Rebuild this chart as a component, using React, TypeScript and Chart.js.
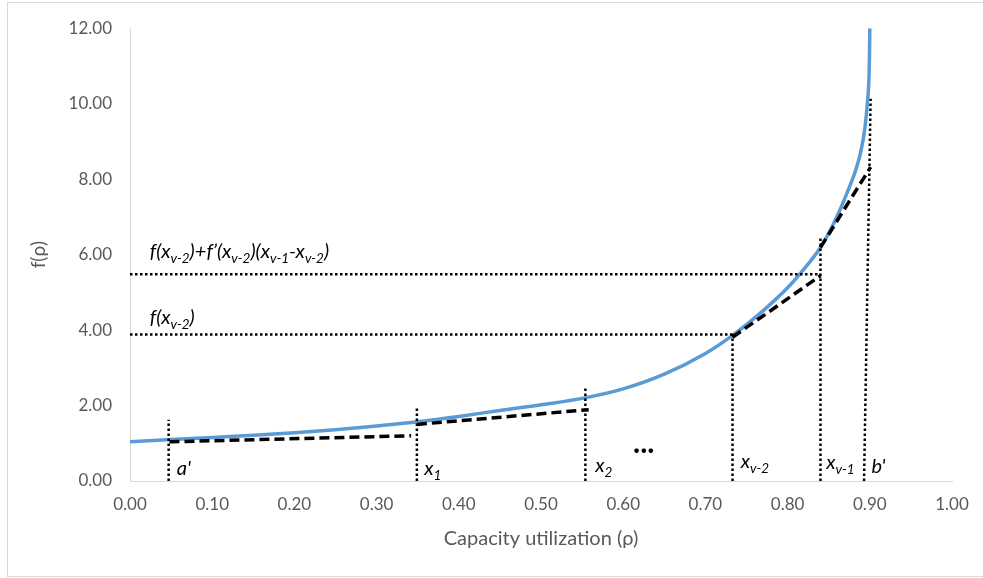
import React, { useEffect, useRef } from "react";
import { Chart, registerables } from "chart.js";

Chart.register(...registerables);

// Blue curve f(rho)
const curveRho = [0, 0.05, 0.10, 0.15, 0.20, 0.25, 0.30, 0.35, 0.40, 0.45, 0.50, 0.555, 0.60, 0.65, 0.70, 0.733, 0.77, 0.80, 0.815, 0.84, 0.855, 0.865, 0.875, 0.883, 0.889, 0.894, 0.897, 0.899, 0.8997, 0.900];
const curveF = [1.04, 1.10, 1.15, 1.21, 1.28, 1.36, 1.46, 1.57, 1.71, 1.87, 2.02, 2.21, 2.44, 2.83, 3.38, 3.86, 4.51, 5.12, 5.49, 6.19, 6.78, 7.25, 7.78, 8.25, 8.72, 9.35, 10.00, 10.70, 11.40, 12.00];

// Dashed linear approximation segments: [rho0, f0, rho1, f1]
const tangentSegments = [
  [0.048, 1.04, 0.342, 1.20],
  [0.349, 1.50, 0.558, 1.89],
  [0.733, 3.81, 0.840, 5.44],
  [0.840, 6.19, 0.901, 8.32],
];

// Dotted guide lines: [rho0, f0, rho1, f1]
const guideLines = [
  [0.047, 0, 0.047, 1.62],
  [0.349, 0, 0.349, 1.96],
  [0.554, 0, 0.554, 2.51],
  [0.733, 0, 0.733, 3.90],
  [0.840, 0, 0.840, 6.47],
  [0.893, 0, 0.901, 10.13],
  [0.000, 3.88, 0.733, 3.88],
  [0.000, 5.48, 0.840, 5.48],
];

// Axis ranges / ticks
const xMin = 0, xMax = 1, xStep = 0.1;
const yMin = 0, yMax = 12, yStep = 2;
const xTitle = "Capacity utilization (ρ)";
const yTitle = "f(ρ)";

// Annotation texts: anchor (rho, f) and parts [text, kind] kind: 0 main, 1 subscript, 2 bold
const annotationAnchors = [
  [0.057, 0.16],
  [0.358, 0.16],
  [0.566, 0.24],
  [0.612, 0.74],
  [0.743, 0.34],
  [0.847, 0.32],
  [0.902, 0.22],
  [0.024, 5.92],
  [0.024, 4.15],
];
const annotationParts: [string, number][][] = [
  [["a'", 0]],
  [["x", 0], ["1", 1]],
  [["x", 0], ["2", 1]],
  [["...", 2]],
  [["x", 0], ["v-2", 1]],
  [["x", 0], ["v-1", 1]],
  [["b'", 0]],
  [["f(x", 0], ["v-2", 1], [")+f’(x", 0], ["v-2", 1], [")(x", 0], ["v-1", 1], ["-x", 0], ["v-2", 1], [")", 0]],
  [["f(x", 0], ["v-2", 1], [")", 0]],
];

const FONT = "Lato, 'Open Sans', sans-serif";

const annotationPlugin = {
  id: "textAnnotations",
  afterDatasetsDraw(chart: any) {
    const { ctx, scales } = chart;
    const xs = scales.x, ys = scales.y;
    ctx.save();
    ctx.fillStyle = "#000000";
    ctx.textBaseline = "alphabetic";
    ctx.textAlign = "left";
    annotationAnchors.forEach((a, i) => {
      let px = xs.getPixelForValue(a[0]);
      const py = ys.getPixelForValue(a[1]);
      for (const [t, kind] of annotationParts[i]) {
        if (kind === 1) ctx.font = `italic 13.5px ${FONT}`;
        else if (kind === 2) ctx.font = `bold 30px ${FONT}`;
        else ctx.font = `italic 20px ${FONT}`;
        ctx.fillText(t, px, py + (kind === 1 ? 5 : 0));
        px += ctx.measureText(t).width;
      }
    });
    ctx.restore();
  },
};

export default function App() {
  const canvasRef = useRef<HTMLCanvasElement | null>(null);

  useEffect(() => {
    if (!canvasRef.current) return;
    const segDatasets = tangentSegments.map((s) => ({
      data: [{ x: s[0], y: s[1] }, { x: s[2], y: s[3] }],
      showLine: true,
      borderColor: "#000000",
      borderWidth: 3.5,
      borderDash: [10, 5],
      pointRadius: 0,
      tension: 0,
    }));
    const guideDatasets = guideLines.map((s) => ({
      data: [{ x: s[0], y: s[1] }, { x: s[2], y: s[3] }],
      showLine: true,
      borderColor: "#000000",
      borderWidth: 2.5,
      borderDash: [2.5, 2.5],
      pointRadius: 0,
      tension: 0,
    }));
    const curveDataset = {
      data: curveRho.map((r, i) => ({ x: r, y: curveF[i] })),
      showLine: true,
      borderColor: "#5B9BD5",
      borderWidth: 3.5,
      pointRadius: 0,
      cubicInterpolationMode: "monotone",
    };
    const chart = new Chart(canvasRef.current, {
      type: "scatter",
      data: { datasets: [...segDatasets, ...guideDatasets, curveDataset] as any },
      options: {
        animation: false,
        responsive: false,
        devicePixelRatio: 1,
        layout: { padding: { top: 27, right: 31, left: 0, bottom: 0 } },
        plugins: { legend: { display: false }, tooltip: { enabled: false } },
        scales: {
          x: {
            type: "linear",
            min: xMin,
            max: xMax,
            grid: { display: false, drawTicks: false },
            border: { display: true, color: "#d9d9d9", width: 1 },
            ticks: {
              stepSize: xStep,
              color: "#595959",
              font: { family: FONT, size: 17 },
              padding: 13,
              maxRotation: 0,
              callback: (v: any) => Number(v).toFixed(2),
            },
            title: {
              display: true,
              text: xTitle,
              color: "#595959",
              font: { family: FONT, size: 20 },
              padding: { top: 0, bottom: 27 },
            },
            afterFit: (s: any) => { s.height = 97; },
          },
          y: {
            type: "linear",
            min: yMin,
            max: yMax,
            grid: { display: false, drawTicks: false },
            border: { display: true, color: "#d9d9d9", width: 1 },
            ticks: {
              stepSize: yStep,
              color: "#595959",
              font: { family: FONT, size: 17 },
              padding: 18,
              callback: (v: any) => Number(v).toFixed(2),
            },
            title: {
              display: true,
              text: yTitle,
              color: "#595959",
              font: { family: FONT, size: 19 },
              padding: { top: 27, bottom: 0 },
            },
            afterFit: (s: any) => { s.width = 130; },
          },
        },
      },
      plugins: [annotationPlugin],
    });
    return () => chart.destroy();
  }, []);

  return (
    <div style={{ position: "fixed", left: 0, top: 0, width: 983, height: 578, overflow: "hidden", background: "#ffffff" }}>
      <div style={{ position: "absolute", left: 7, top: 2, width: 1100, height: 575, border: "1px solid #d9d9d9", boxSizing: "border-box" }} />
      <canvas ref={canvasRef} width={983} height={578} style={{ position: "absolute", left: 0, top: 0, width: 983, height: 578 }} />
    </div>
  );
}
